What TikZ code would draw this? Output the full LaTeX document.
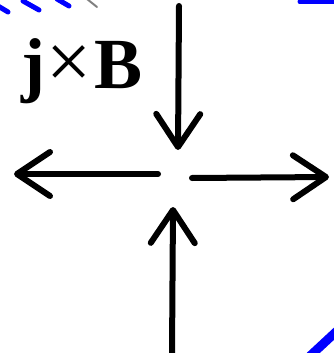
\documentclass[tikz,border=0pt]{standalone}
\usepackage{fontspec}
\setmainfont{Liberation Serif}
\usetikzlibrary{arrows.meta}
\tikzset{
  force/.style={line width=6pt, line cap=round, line join=round,
    -{Straight Barb[length=33pt,width=44pt,line cap=round,line join=round]}},
  bluepart/.style={blue, line width=5pt, line cap=round},
}
\begin{document}
\begin{tikzpicture}[x=1pt,y=-1pt]
\useasboundingbox (0,0) rectangle (334,353);
% arrow end points
\coordinate (dtop) at (179,6);
\coordinate (dtip) at (178,150);
\coordinate (lstart) at (158,174);
\coordinate (ltip) at (14,174);
\coordinate (rstart) at (192,178);
\coordinate (rtip) at (329,177);
\coordinate (ubot) at (172,354);
\coordinate (utip) at (173,207);
\draw[force] (dtop) -- (dtip);
\draw[force] (lstart) -- (ltip);
\draw[force] (rstart) -- (rtip);
\draw[force] (ubot) -- (utip);
% label
\node[anchor=base west, inner sep=0pt, font=\fontsize{72}{72}\selectfont] (lbl) at (21,88)
  {\textbf{j}\kern1pt{\fontsize{80}{80}\selectfont×}\kern3pt\textbf{B}};
% blue fragments at edges
\coordinate (b1a) at (-2,6); \coordinate (b1b) at (8,12);
\coordinate (b2a) at (23,1); \coordinate (b2b) at (39,10);
\coordinate (b3a) at (57,-1); \coordinate (b3b) at (69,6);
\draw[bluepart] (b1a) -- (b1b);
\draw[bluepart] (b2a) -- (b2b);
\draw[bluepart] (b3a) -- (b3b);
\coordinate (g1) at (87,-1); \coordinate (g2) at (97,7);
\draw[gray, line width=2pt, line cap=round] (g1) -- (g2);
\coordinate (t1) at (300,2); \coordinate (t2) at (340,2);
\draw[bluepart] (t1) -- (t2);
\coordinate (br1) at (310,356); \coordinate (br2) at (338,330);
\draw[blue, line width=9pt] (br1) -- (br2);
\end{tikzpicture}
\end{document}
